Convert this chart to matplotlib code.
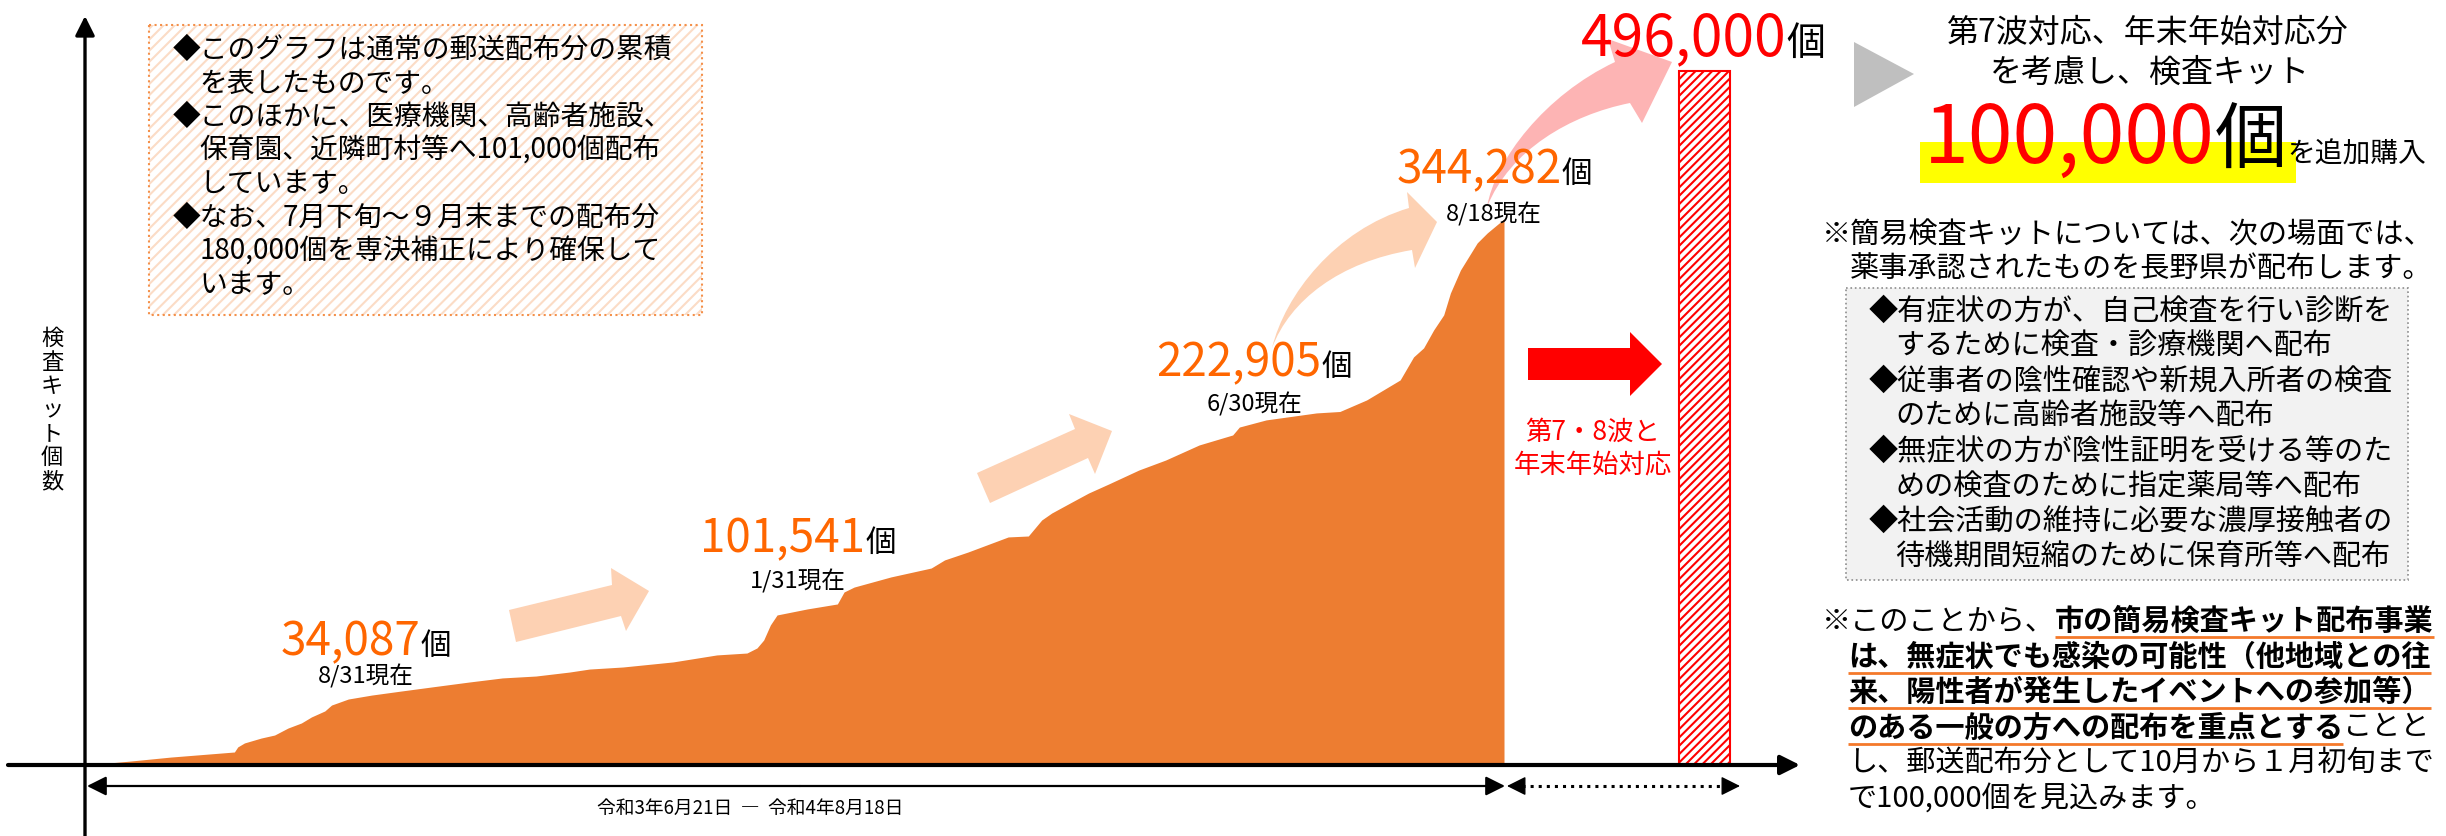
import matplotlib
matplotlib.use('Agg')
import matplotlib.pyplot as plt
import matplotlib.dates as mdates
from matplotlib.patches import Rectangle, Polygon, PathPatch
from matplotlib.path import Path
import pandas as pd

plt.rcParams['font.family'] = ['Noto Sans CJK JP', 'DejaVu Sans']
plt.rcParams['hatch.linewidth'] = 1.5

# cumulative mailed kits
dates = ['2021-06-21', '2021-07-04', '2021-07-16', '2021-08-04', '2021-08-05', '2021-08-07',
         '2021-08-12', '2021-08-16', '2021-08-20', '2021-08-24', '2021-08-27', '2021-08-31',
         '2021-09-02', '2021-09-07', '2021-09-14', '2021-09-23', '2021-10-04', '2021-10-13',
         '2021-10-23', '2021-11-02', '2021-11-12', '2021-11-18', '2021-11-28', '2021-12-13',
         '2021-12-26', '2022-01-04', '2022-01-07', '2022-01-09', '2022-01-11', '2022-01-13',
         '2022-01-22', '2022-01-31', '2022-02-02', '2022-02-05', '2022-02-16', '2022-02-28',
         '2022-03-04', '2022-03-11', '2022-03-23', '2022-03-29', '2022-04-02', '2022-04-05',
         '2022-04-11', '2022-04-16', '2022-04-22', '2022-05-01', '2022-05-09', '2022-05-19',
         '2022-05-29', '2022-05-31', '2022-06-08', '2022-06-23', '2022-06-30', '2022-07-08',
         '2022-07-13', '2022-07-18', '2022-07-22', '2022-07-25', '2022-07-28', '2022-07-31',
         '2022-08-02', '2022-08-05', '2022-08-10', '2022-08-13', '2022-08-18']
counts = [0, 2500, 5000, 8200, 11400, 13900, 17000, 18900, 23300, 26500, 30300, 34087,
          37800, 41600, 44100, 46700, 49800, 52300, 54900, 56100, 58600, 60500, 61800, 65000,
          69400, 70600, 73800, 78800, 88300, 94600, 98400, 101541, 109100, 112200, 118600, 124200,
          129300, 134300, 143800, 144400, 154500, 158900, 165800, 171500, 177200, 186000, 192300, 201800,
          208100, 213100, 217600, 222000, 222905, 230200, 236500, 242800, 257300, 263000, 274300, 283800,
          297600, 312100, 329200, 335500, 344282]

milestone_counts = [34087, 101541, 222905, 344282]
milestone_labels = ['8/31現在', '1/31現在', '6/30現在', '8/18現在']

plan_date = '2022-10-17'
plan_total = 496000
extra_kits = 100000

W, H = 2446, 836
ORANGE = '#ED7D31'
NUM = '#FF6600'
RED = '#FF0000'
PEACH = '#FDD1B3'
PINK = '#FDB4B4'

fig = plt.figure(figsize=(W / 100, H / 100), dpi=100)

# data axes: the curve on its own scale
ax = fig.add_axes([0, 0, 1, 1])
d = pd.to_datetime(dates)
ax.fill_between(d, counts, 0, color=ORANGE, lw=0)
x0 = mdates.date2num(d[0])
x1 = mdates.date2num(d[-1])
ppd = (1504 - 87) / (x1 - x0)
k1 = counts[-1] / (765 - 219)
ax.set_ylim(-(H - 765) * k1, 765 * k1)
ax.axis('off')

# plan bar is drawn on a separate (not to scale) axis
ax2 = ax.twinx()
ax2.bar(pd.Timestamp(plan_date), plan_total, width=51 / ppd, facecolor='white',
        edgecolor=RED, hatch='////', lw=1.5)
k2 = plan_total / (765 - 71)
ax2.set_ylim(-(H - 765) * k2, 765 * k2)
ax2.axis('off')
ax.set_xlim(x0 - 87 / ppd, x0 + (W - 87) / ppd)

# overlay in pixel coords for all the annotation
ov = fig.add_axes([0, 0, 1, 1])
ov.set_xlim(0, W)
ov.set_ylim(H, 0)
ov.axis('off')

renderer = fig.canvas.get_renderer()


def put(x, y, parts, ha='left', va='center'):
    ts, ws = [], []
    for s, kw in parts:
        t = ov.text(0, y, s, ha='left', va=va, zorder=6, **kw)
        ts.append(t)
        ws.append(t.get_window_extent(renderer).width)
    total = sum(ws)
    if ha == 'center':
        x = x - total / 2
    elif ha == 'right':
        x = x - total
    spans = []
    for t, w in zip(ts, ws):
        t.set_x(x)
        spans.append((x, x + w))
        x += w
    return spans


def arrow(p_from, p_to, lw=2.2):
    ov.annotate('', xy=p_to, xytext=p_from,
                arrowprops=dict(arrowstyle='-|>,head_length=0.9,head_width=0.45',
                                mutation_scale=13, lw=lw, color='black',
                                shrinkA=0, shrinkB=0))


# axes lines
arrow((85, H), (85, 16), lw=2.4)
arrow((8, 765), (1800, 765), lw=3)
arrow((800, 786), (87, 786), lw=1.6)
arrow((800, 786), (1505, 786), lw=1.6)
ov.plot([1522, 1724], [786, 786], ls=':', lw=2.2, color='black')
arrow((1522, 786), (1507, 786), lw=1)
arrow((1724, 786), (1740, 786), lw=1)
put(750, 808, [('令和3年6月21日  ―  令和4年8月18日', dict(fontsize=13.5))], ha='center')

# y label, stacked vertically
ov.text(52, 410, '\n'.join('検査キット個数'), fontsize=16, ha='center', va='center',
        linespacing=1.05)

# note box top-left
ov.add_patch(Rectangle((149, 25), 553, 290, facecolor='white', edgecolor='#FBDCC6',
                       hatch='///', lw=0, zorder=2))
ov.add_patch(Rectangle((149, 25), 553, 290, fill=False, edgecolor='#F4904A',
                       ls=':', lw=1.5, zorder=3))
note = [('◆このグラフは通常の郵送配布分の累積', 173),
        ('を表したものです。', 199),
        ('◆このほかに、医療機関、高齢者施設、', 173),
        ('保育園、近隣町村等へ101,000個配布', 199),
        ('しています。', 199),
        ('◆なお、7月下旬～９月末までの配布分', 173),
        ('180,000個を専決補正により確保して', 199),
        ('います。', 199)]
for i, (s, x) in enumerate(note):
    put(x, 50 + 33.6 * i, [(s, dict(fontsize=20))])

# peach arrows between milestones
ov.add_patch(Polygon([(516, 642), (509, 610), (612, 585), (611, 568), (649, 591),
                      (626, 631), (621, 616)], closed=True, color=PEACH, lw=0, zorder=2))
ov.add_patch(Polygon([(977, 473), (990, 503), (1088, 458), (1095, 474), (1112, 431),
                      (1069, 414), (1075, 429)], closed=True, color=PEACH, lw=0, zorder=2))


def curved(pts, color):
    codes = [Path.MOVETO, Path.CURVE4, Path.CURVE4, Path.CURVE4, Path.LINETO, Path.LINETO,
             Path.LINETO, Path.LINETO, Path.CURVE4, Path.CURVE4, Path.CURVE4, Path.CLOSEPOLY]
    ov.add_patch(PathPatch(Path(pts + [pts[0]], codes), facecolor=color, lw=0, zorder=2))


curved([(1272, 348), (1285, 295), (1335, 230), (1409, 208), (1407, 192), (1437, 222),
        (1415, 268), (1412, 250), (1340, 262), (1290, 300), (1272, 348)], PEACH)
curved([(1487, 207), (1495, 160), (1545, 95), (1615, 62), (1608, 39), (1672, 62),
        (1642, 123), (1630, 103), (1570, 115), (1510, 150), (1487, 207)], PINK)

# milestone labels
lab_pos = [(366, 655, 676), (798, 552, 581), (1254, 376, 404), (1494, 183, 214)]
for v, lab, (cx, by, ly) in zip(milestone_counts, milestone_labels, lab_pos):
    put(cx, by, [(f'{v:,}', dict(fontsize=33, color=NUM)),
                 ('個', dict(fontsize=22, color='black'))], ha='center', va='baseline')
    put(cx, ly, [(lab, dict(fontsize=17))], ha='center')

put(1703, 55, [(f'{plan_total:,}', dict(fontsize=41, color=RED)),
               ('個', dict(fontsize=28, color='black'))], ha='center', va='baseline')

# red block arrow + caption
ov.add_patch(Polygon([(1528, 348), (1630, 348), (1630, 332), (1662, 364), (1630, 396),
                      (1630, 380), (1528, 380)], closed=True, color=RED, lw=0))
put(1593, 432, [('第7・8波と', dict(fontsize=19, color=RED))], ha='center')
put(1593, 465, [('年末年始対応', dict(fontsize=19, color=RED))], ha='center')

# right column
ov.add_patch(Polygon([(1854, 42), (1914, 74), (1854, 107)], closed=True, color='#BFBFBF', lw=0))
put(2148, 33, [('第7波対応、年末年始対応分', dict(fontsize=23))], ha='center')
put(2150, 73, [('を考慮し、検査キット', dict(fontsize=23))], ha='center')
ov.add_patch(Rectangle((1920, 142), 376, 41, color='#FFFF00', lw=0, zorder=1))
put(1924, 163, [(f'{extra_kits:,}', dict(fontsize=58, color=RED)),
                ('個', dict(fontsize=52, color='black')),
                ('を追加購入', dict(fontsize=20, color='black'))], va='baseline')

put(1822, 236, [('※簡易検査キットについては、次の場面では、', dict(fontsize=21))])
put(1850, 270, [('薬事承認されたものを長野県が配布します。', dict(fontsize=21))])
ov.add_patch(Rectangle((1846, 288), 562, 292, facecolor='#F2F2F2', edgecolor='#8C8C8C',
                       ls=':', lw=1.2, zorder=1))
box = ['◆有症状の方が、自己検査を行い診断を',
       'するために検査・診療機関へ配布',
       '◆従事者の陰性確認や新規入所者の検査',
       'のために高齢者施設等へ配布',
       '◆無症状の方が陰性証明を受ける等のた',
       'めの検査のために指定薬局等へ配布',
       '◆社会活動の維持に必要な濃厚接触者の',
       '待機期間短縮のために保育所等へ配布']
for i, s in enumerate(box):
    x = 1869 if s.startswith('◆') else 1895
    put(x, 312 + 35 * i, [(s, dict(fontsize=21))])

reg = dict(fontsize=21)
bold = dict(fontsize=21, fontweight='bold')
concl = [(1822, [('※このことから、', reg), ('市の簡易検査キット配布事業', bold)]),
         (1848, [('は、無症状でも感染の可能性（他地域との往', bold)]),
         (1848, [('来、陽性者が発生したイベントへの参加等）', bold)]),
         (1848, [('のある一般の方への配布を重点とする', bold), ('ことと', reg)]),
         (1848, [('し、郵送配布分として10月から１月初旬まで', reg)]),
         (1848, [('で100,000個を見込みます。', reg)])]
for i, (x, parts) in enumerate(concl):
    y = 621 + 35.5 * i
    spans = put(x, y, parts)
    for (a, b), (_, kw) in zip(spans, parts):
        if kw is bold:
            ov.plot([a, b], [y + 16, y + 16], color='#F4792A', lw=2, solid_capstyle='butt')

fig.savefig('out.png', dpi=100)
